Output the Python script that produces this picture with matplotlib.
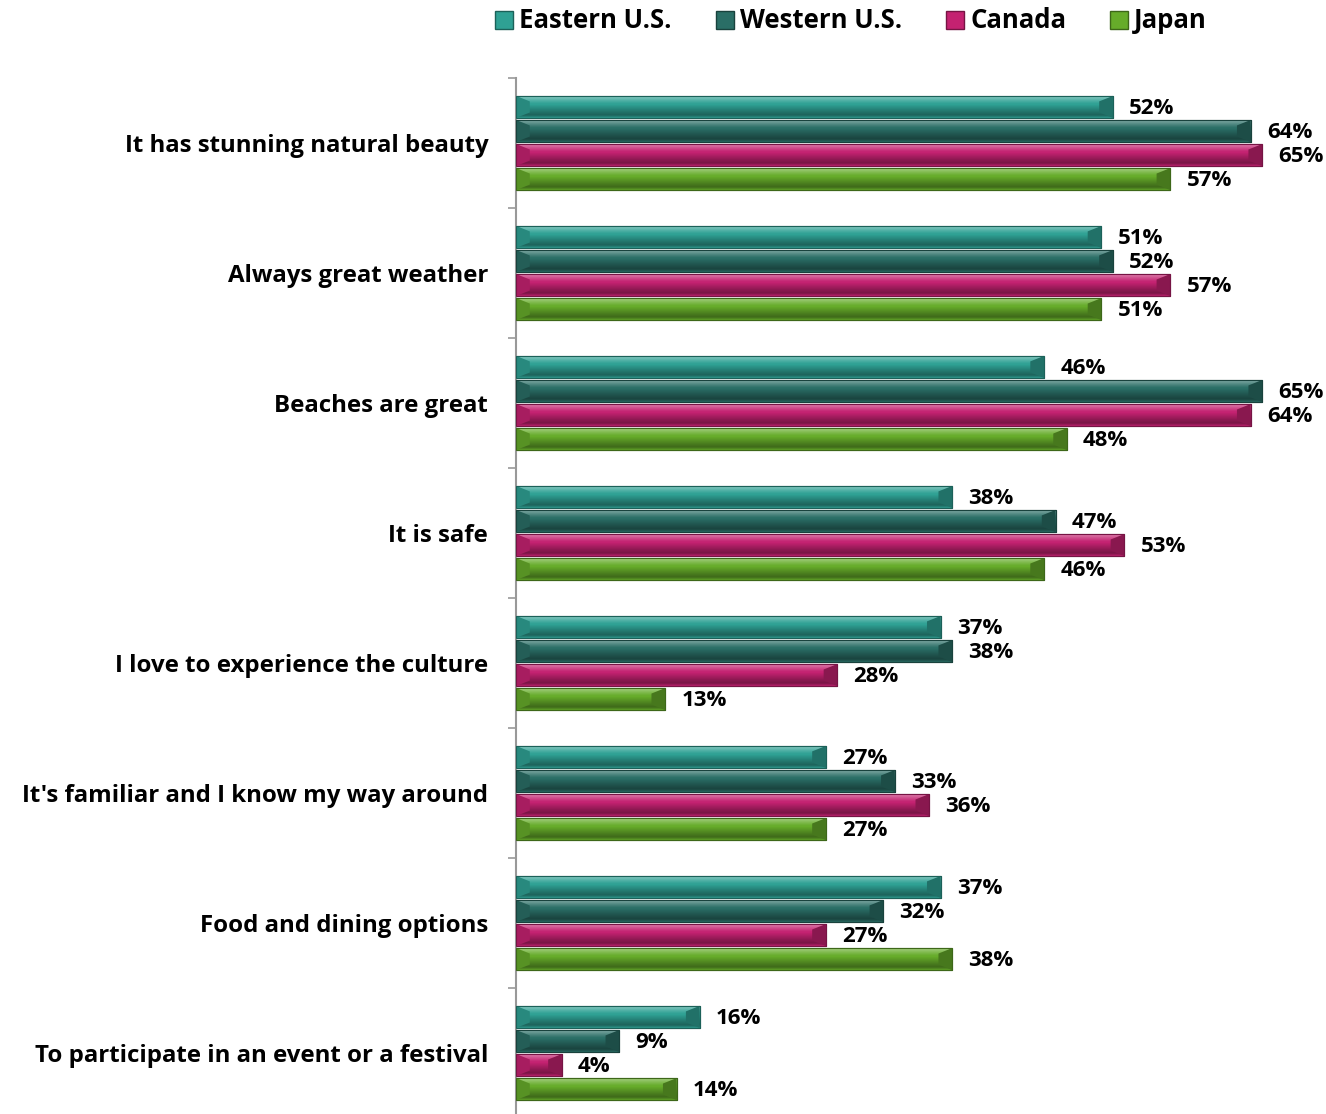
import numpy as np
import matplotlib
matplotlib.use("Agg")
import matplotlib.pyplot as plt
from matplotlib.patches import Rectangle
from matplotlib.colors import to_rgb

plt.rcParams['font.family'] = ['Open Sans', 'DejaVu Sans']

categories = [
    "It has stunning natural beauty",
    "Always great weather",
    "Beaches are great",
    "It is safe",
    "I love to experience the culture",
    "It's familiar and I know my way around",
    "Food and dining options",
    "To participate in an event or a festival",
]
series_names = ["Eastern U.S.", "Western U.S.", "Canada", "Japan"]
eastern = [52, 51, 46, 38, 37, 27, 37, 16]
western = [64, 52, 65, 47, 38, 33, 32, 9]
canada = [65, 57, 64, 53, 28, 36, 27, 4]
japan = [57, 51, 48, 46, 13, 27, 38, 14]
series_values = [eastern, western, canada, japan]
colors = ["#2FA194", "#2A6E66", "#C42271", "#66AC2A"]

W, H = 1326, 1114
fig = plt.figure(figsize=(W / 100, H / 100), dpi=100)
ax = fig.add_axes([516 / W, 1 - 1118 / H, (W - 516) / W, (1118 - 78) / H])

def shade(c, f):
    c = np.array(to_rgb(c))
    if f >= 0:
        return c + (1 - c) * f
    return c * (1 + f)

profile = np.array([0.05, 0.35, 0.30, 0.22, 0.15, 0.08, 0.02, 0.0, -0.05, -0.1,
                    -0.15, -0.2, -0.25, -0.3, -0.34, -0.38, -0.28, -0.1])

slot = 0.185
bh = 0.17
for si, (vals, col) in enumerate(zip(series_values, colors)):
    grad = np.array([shade(col, f) for f in profile])[:, None, :]
    for ci, v in enumerate(vals):
        yc = ci + (si - 1.5) * slot
        rect = Rectangle((0, yc - bh / 2), v, bh, facecolor=col,
                         edgecolor=shade(col, -0.45), linewidth=0.8, zorder=2)
        ax.add_patch(rect)
        im = ax.imshow(grad, extent=(0, v, yc + bh / 2, yc - bh / 2),
                       aspect='auto', origin='upper', zorder=2.5,
                       interpolation='bilinear')
        im.set_clip_path(rect)
        cap = min(1.2, v * 0.3)
        tri = plt.Polygon([(v, yc - bh / 2), (v, yc + bh / 2), (v - cap, yc + bh / 4),
                           (v - cap, yc - bh / 4)], closed=True,
                          facecolor=shade(col, -0.3), edgecolor='none', zorder=2.6)
        ax.add_patch(tri)
        tri2 = plt.Polygon([(0, yc - bh / 2), (0, yc + bh / 2), (cap, yc + bh / 4),
                            (cap, yc - bh / 4)], closed=True,
                           facecolor=shade(col, -0.15), edgecolor='none', zorder=2.6)
        ax.add_patch(tri2)
        edge = Rectangle((0, yc - bh / 2), v, bh, facecolor='none',
                         edgecolor=shade(col, -0.4), linewidth=0.8, zorder=2.7)
        ax.add_patch(edge)
        ax.text(v + 1.4, yc + 0.01, f"{v}%", ha='left', va='center',
                fontsize=16, fontweight='bold', color='black', zorder=3)

ax.set_xlim(0, (W - 516) / 11.48)
ax.set_ylim(len(categories) - 0.5, -0.5)
ax.set_yticks(np.arange(len(categories)))
ax.set_yticklabels(categories, fontsize=17.3, fontweight='bold')
ax.set_yticks(np.arange(len(categories) + 1) - 0.5, minor=True)
ax.tick_params(axis='y', which='major', length=0, pad=20)
ax.tick_params(axis='y', which='minor', length=6, color='#999999', width=1.2, direction='out')
ax.set_xticks([])
for s in ['top', 'right', 'bottom']:
    ax.spines[s].set_visible(False)
ax.spines['left'].set_color('#999999')
ax.spines['left'].set_linewidth(1.5)

handles = [Rectangle((0, 0), 1, 1, facecolor=c, edgecolor=shade(c, -0.4)) for c in colors]
fig.legend(handles, series_names, loc='center', bbox_to_anchor=(851 / W, 1 - 21 / H),
           ncol=4, frameon=False, prop={'size': 18.5, 'weight': 'bold'},
           handlelength=0.7, handleheight=0.7, handletextpad=0.25, columnspacing=1.7)

fig.savefig("out.png", dpi=100)
